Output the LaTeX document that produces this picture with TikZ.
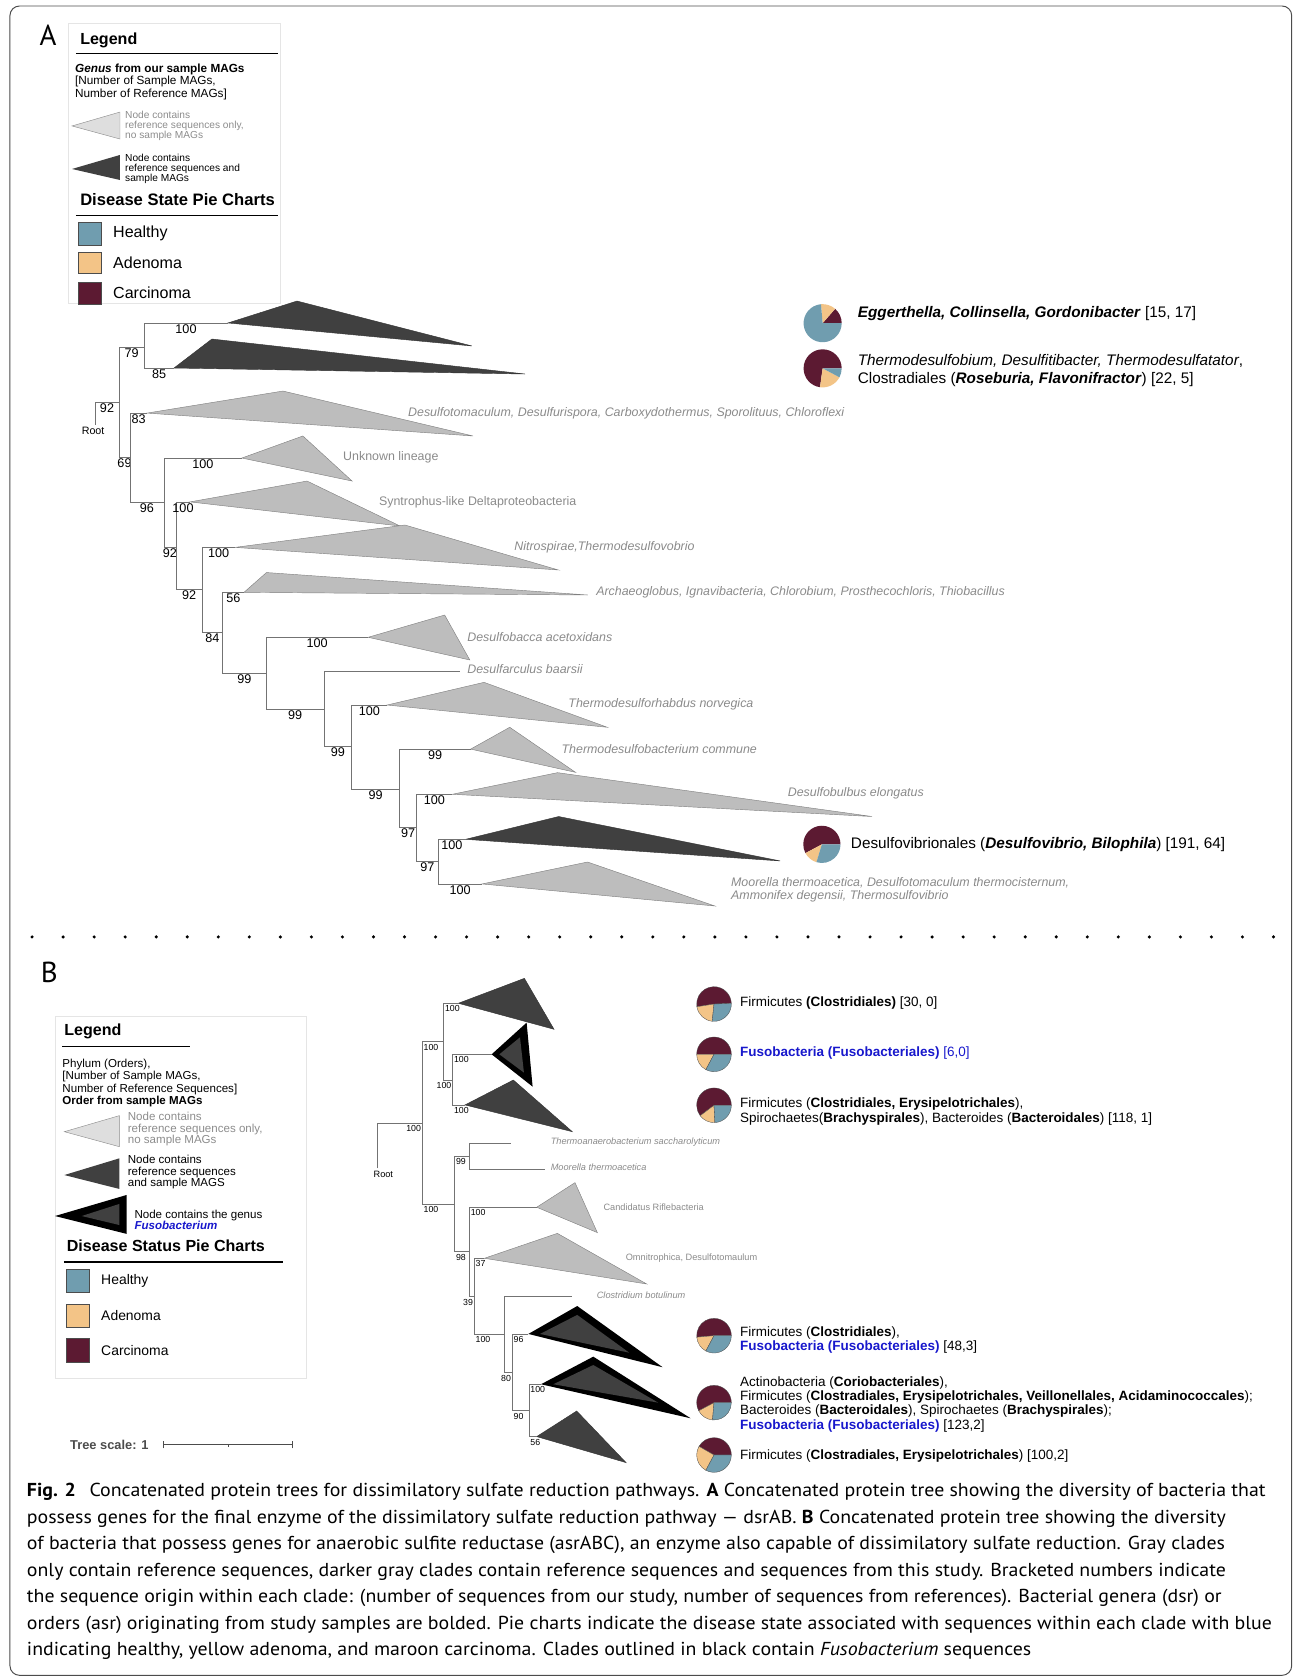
\documentclass[tikz,border=0pt]{standalone}
\usepackage{fontspec}
\setmainfont{Liberation Sans}
\newfontfamily\capfont[FakeStretch=1.06]{PT Sans}
\newfontfamily\panelfont{PT Sans}
\definecolor{healthy}{RGB}{112,157,175}
\definecolor{adenoma}{RGB}{243,196,135}
\definecolor{carcinoma}{RGB}{92,26,50}
\definecolor{cladedark}{RGB}{64,64,64}
\definecolor{cladelight}{RGB}{189,189,189}
\definecolor{reftext}{RGB}{138,138,138}
\definecolor{fuso}{RGB}{24,24,204}
\newcommand\fs[2]{\fontsize{#1}{#2}\selectfont}
\newcommand\piechart[6][black!70]{%
	\begin{scope}[shift={(#2)},yscale=-1,line width=0.3pt]
		\filldraw[fill=carcinoma,draw=#1] (0,0) -- (#4:#3) arc[start angle=#4,end angle=#5,radius=#3] -- cycle;
		\filldraw[fill=adenoma,draw=#1] (0,0) -- (#5:#3) arc[start angle=#5,end angle=#6,radius=#3] -- cycle;
		\filldraw[fill=healthy,draw=#1] (0,0) -- (#6:#3) arc[start angle=#6,end angle=360+(#4),radius=#3] -- cycle;
	\end{scope}}

\begin{document}
\begin{tikzpicture}[x=1pt,y=-1pt,
		branch/.style={draw=black!55,line width=0.6pt},
		boot/.style={pos=0.75,below,inner sep=1pt,font=\fs{11.8}{11.8}},
		bootl/.style={pos=0.5,anchor=north west,inner xsep=1pt,inner ysep=2pt,font=\fs{8.2}{8.2}},
		bootr/.style={pos=1,anchor=north east,inner xsep=1pt,inner ysep=2pt,font=\fs{8.2}{8.2}},
		dark/.style={fill=cladedark,draw=black!80,line width=0.4pt},
		light/.style={fill=cladelight,draw=black!50,line width=0.4pt},
		ref/.style={anchor=west,inner sep=0pt,text=reftext,font=\fs{11.6}{12}\itshape},
		refup/.style={anchor=west,inner sep=0pt,text=reftext,font=\fs{11.6}{12}},
		refb/.style={anchor=west,inner sep=0pt,text=reftext,font=\fs{8.6}{9}\itshape},
		refbup/.style={anchor=west,inner sep=0pt,text=reftext,font=\fs{8.6}{9}},
		pietext/.style={anchor=west,inner sep=0pt,align=left,font=\fs{14.3}{16.4}},
		pietextb/.style={anchor=west,inner sep=0pt,align=left,font=\fs{12.6}{13.5}},
		legbox/.style={draw=black!10,line width=0.8pt},
		swatch/.style={draw=black!70,line width=0.5pt},
		legtext/.style={anchor=west,inner sep=0pt,align=left},
		capline/.style={anchor=west,inner sep=0pt,font=\capfont\fs{17.5}{18}}]
	\useasboundingbox (0,0) rectangle (1210,1568);
	\draw[rounded corners=9pt,line width=0.9pt,black!70] (9.3,5.6) rectangle (1207,1565.5);

	\node[font=\panelfont\fs{27}{27}] (lblA) at (44.9,32.7) {A};
	\draw[legbox] (63.5,21.5) rectangle (261.6,284);
	\node[legtext,font=\fs{15}{15}\bfseries] (legA) at (74.8,37.4) {Legend};
	\draw[line width=0.7pt] (71,49.5) -- (259.8,49.5);
	\node[legtext,font=\fs{11}{11.6}] (genA) at (70,76.3) {\textbf{\textit{Genus} from our sample MAGs}\\{[}Number of Sample MAGs,\\Number of Reference MAGs]};
	\filldraw[fill=black!13,draw=black!45,line width=0.4pt] (67.3,117.7) -- (112.1,104.7) -- (112.1,129.9) -- cycle;
	\node[legtext,text=black!45,font=\fs{9.5}{9.6}] (refA) at (116.8,117.7) {Node contains\\reference sequences only,\\no sample MAGs};
	\fill[cladedark] (67.3,157.9) -- (112.1,144.8) -- (112.1,168.2) -- cycle;
	\node[legtext,font=\fs{9.5}{9.6}] (magA) at (116.8,157.9) {Node contains\\reference sequences and\\sample MAGs};
	\node[legtext,font=\fs{15.5}{15.5}\bfseries] (disA) at (74.8,186.9) {Disease State Pie Charts};
	\draw[line width=0.7pt] (71,200.9) -- (259.8,200.9);
	\filldraw[swatch,fill=healthy] (72.9,207.4) rectangle (94.4,228.9);
	\filldraw[swatch,fill=adenoma] (72.9,235.5) rectangle (94.4,255.1);
	\filldraw[swatch,fill=carcinoma] (72.9,263.5) rectangle (94.4,284);
	\node[legtext,font=\fs{15}{15}] (hA) at (105.6,218.2) {Healthy};
	\node[legtext,font=\fs{15}{15}] (aA) at (105.6,245.3) {Adenoma};
	\node[legtext,font=\fs{15}{15}] (cA) at (105.6,273.8) {Carcinoma};

	\coordinate (ar) at (88.8,397);
	\coordinate (a92) at (111.2,375.6);
	\coordinate (a79) at (134.6,324.2);
	\coordinate (a69) at (121.5,427);
	\coordinate (a96) at (153.2,469);
	\coordinate (a92b) at (164.5,511);
	\coordinate (a92c) at (189,551);
	\coordinate (a84) at (208,591);
	\coordinate (a99) at (248.6,629);
	\coordinate (a99b) at (303,662.5);
	\coordinate (a99c) at (328.6,697.7);
	\coordinate (a99d) at (373.3,737.3);
	\coordinate (a97) at (389.4,773);
	\coordinate (a97b) at (409.5,804.5);
	\coordinate (egg) at (213,301.8);
	\coordinate (therm) at (162.6,343.9);
	\coordinate (dtom) at (137.4,386);
	\coordinate (unk) at (226,428);
	\coordinate (syn) at (177.5,469);
	\coordinate (nitro) at (219.6,511.5);
	\coordinate (arch) at (228,553.5);
	\coordinate (dbac) at (344,595.5);
	\coordinate (dfar) at (430,627);
	\coordinate (trh) at (361.7,658.8);
	\coordinate (tdb) at (439.8,700);
	\coordinate (dbul) at (422.6,742.2);
	\coordinate (dvib) at (435,784.3);
	\coordinate (moor) at (450.4,826);

	\filldraw[dark] (egg) -- (277.5,281.3) -- (441,323.3) -- cycle;
	\filldraw[dark] (therm) -- (198,316.8) -- (490.6,349.5) -- cycle;
	\filldraw[light] (dtom) -- (264.4,365.4) -- (442,407.4) -- cycle;
	\filldraw[light] (unk) -- (283,407.4) -- (329,449.5) -- cycle;
	\filldraw[light] (syn) -- (286.9,449.5) -- (373.8,491.5) -- cycle;
	\filldraw[light] (nitro) -- (378.4,490.6) -- (521.7,532.6) -- cycle;
	\filldraw[light] (arch) -- (249,535) -- (549.4,556) -- cycle;
	\filldraw[light] (dbac) -- (415.5,574.7) -- (439,616.7) -- cycle;
	\filldraw[light] (trh) -- (452.3,637.6) -- (567.5,679.6) -- cycle;
	\filldraw[light] (tdb) -- (476.3,679.6) -- (537.8,721.7) -- cycle;
	\filldraw[light] (dbul) -- (521,722) -- (815,763) -- cycle;
	\filldraw[dark] (dvib) -- (522,763) -- (729,804.5) -- cycle;
	\filldraw[light] (moor) -- (549,805.5) -- (668,846.6) -- cycle;

	\draw[branch] (ar) |- node[boot]{92} (a92);
	\draw[branch] (a92) |- node[boot]{79} (a79);
	\draw[branch] (a79) |- node[boot]{100} (egg);
	\draw[branch] (a79) |- node[boot]{85} (therm);
	\draw[branch] (a92) |- node[boot]{69} (a69);
	\draw[branch] (a69) |- node[boot]{83} (dtom);
	\draw[branch] (a69) |- node[boot]{96} (a96);
	\draw[branch] (a96) |- node[boot]{100} (unk);
	\draw[branch] (a96) |- node[boot]{92} (a92b);
	\draw[branch] (a92b) |- node[boot]{100} (syn);
	\draw[branch] (a92b) |- node[boot]{92} (a92c);
	\draw[branch] (a92c) |- node[boot]{100} (nitro);
	\draw[branch] (a92c) |- node[boot]{84} (a84);
	\draw[branch] (a84) |- node[boot]{56} (arch);
	\draw[branch] (a84) |- node[boot]{99} (a99);
	\draw[branch] (a99) |- node[boot]{100} (dbac);
	\draw[branch] (a99) |- node[boot]{99} (a99b);
	\draw[branch] (a99b) |- (dfar);
	\draw[branch] (a99b) |- node[boot]{99} (a99c);
	\draw[branch] (a99c) |- node[boot]{100} (trh);
	\draw[branch] (a99c) |- node[boot]{99} (a99d);
	\draw[branch] (a99d) |- node[boot]{99} (tdb);
	\draw[branch] (a99d) |- node[boot]{97} (a97);
	\draw[branch] (a97) |- node[boot]{100} (dbul);
	\draw[branch] (a97) |- node[boot]{97} (a97b);
	\draw[branch] (a97b) |- node[boot]{100} (dvib);
	\draw[branch] (a97b) |- node[boot]{100} (moor);
	\node[font=\fs{10}{10}] (rootA) at (87,402.7) {Root};

	\node[ref] (dtomlbl) at (381.2,386) {Desulfotomaculum, Desulfurispora, Carboxydothermus, Sporolituus, Chloroflexi};
	\node[refup] (unklbl) at (320.5,427) {Unknown lineage};
	\node[refup] (synlbl) at (354,469) {Syntrophus-like Deltaproteobacteria};
	\node[ref] (nitrolbl) at (480.5,511) {Nitrospirae,Thermodesulfovobrio};
	\node[ref] (archlbl) at (557,553) {Archaeoglobus, Ignavibacteria, Chlorobium, Prosthecochloris, Thiobacillus};
	\node[ref] (dbaclbl) at (436.5,595) {Desulfobacca acetoxidans};
	\node[ref] (dfarlbl) at (436.5,625) {Desulfarculus baarsii};
	\node[ref] (trhlbl) at (531,658) {Thermodesulforhabdus norvegica};
	\node[ref] (tdblbl) at (524.6,700) {Thermodesulfobacterium commune};
	\node[ref] (dbullbl) at (736,741) {Desulfobulbus elongatus};
	\node[ref,align=left,font=\fs{11.6}{11.5}\itshape] (moorlbl) at (683,831.5) {Moorella thermoacetica, Desulfotomaculum thermocisternum,\\Ammonifex degensii, Thermosulfovibrio};

	\coordinate (pA1) at (768.7,302);
	\coordinate (pA2) at (768.7,344.2);
	\coordinate (pA3) at (768,789);
	\piechart[none]{pA1}{17.8}{0}{49}{95}
	\piechart[none]{pA2}{17.8}{0}{262}{332}
	\piechart[none]{pA3}{17.4}{0}{208}{253}
	\node[pietext] (tA1) at (801.4,292.8) {\textbf{\textit{Eggerthella, Collinsella, Gordonibacter}} [15, 17]};
	\node[pietext] (tA2) at (801.4,346.2) {\textit{Thermodesulfobium, Desulfitibacter, Thermodesulfatator},\\Clostradiales (\textbf{\textit{Roseburia, Flavonifractor}}) [22, 5]};
	\node[pietext] (tA3) at (795,789) {Desulfovibrionales (\textbf{\textit{Desulfovibrio, Bilophila}}) [191, 64]};

	\foreach \i in {0,...,40}
		\fill (30+29*\i,875.5) circle[radius=1.6];

	\node[font=\panelfont\fs{27}{27}] (lblB) at (46,909) {B};
	\draw[legbox] (52,949.4) rectangle (286,1288);
	\node[legtext,font=\fs{15}{15}\bfseries] (legB) at (60,963.4) {Legend};
	\draw[line width=0.7pt] (58.2,977.4) -- (177.5,977.4);
	\node[legtext,font=\fs{10.8}{11.3}] (phyB) at (58.2,1012) {Phylum (Orders),\\{[}Number of Sample MAGs,\\Number of Reference Sequences]\\\textbf{Order from sample MAGs}};
	\filldraw[fill=black!13,draw=black!45,line width=0.4pt] (60.1,1057.5) -- (111.5,1042.5) -- (111.5,1071.5) -- cycle;
	\node[legtext,text=black!45,font=\fs{10.8}{10.9}] (refB) at (119.3,1055.3) {Node contains\\reference sequences only,\\no sample MAGs};
	\fill[cladedark] (60.1,1098) -- (111.5,1082.4) -- (111.5,1111) -- cycle;
	\node[legtext,font=\fs{10.8}{10.9}] (magB) at (119.3,1095.4) {Node contains\\reference sequences\\and sample MAGS};
	\fill[black] (51.4,1136.3) -- (118.4,1116.6) -- (118.4,1153) -- cycle;
	\fill[cladedark] (76.3,1136.3) -- (111.5,1125) -- (111.5,1144.7) -- cycle;
	\node[legtext,font=\fs{10.8}{10.6}] (fusB) at (125.5,1139.7) {Node contains the genus\\\textcolor{fuso}{\textbf{\textit{Fusobacterium}}}};
	\node[legtext,font=\fs{15}{15}\bfseries] (disB) at (62.3,1164.3) {Disease Status Pie Charts};
	\draw[line width=1.5pt] (59.8,1179) -- (264.1,1179);
	\filldraw[swatch,fill=healthy] (62,1186) rectangle (83.5,1207.5);
	\filldraw[swatch,fill=adenoma] (62,1218.7) rectangle (83.5,1240.3);
	\filldraw[swatch,fill=carcinoma] (62,1250.5) rectangle (83.5,1272.7);
	\node[legtext,font=\fs{13}{13}] (hB) at (94.4,1196.8) {Healthy};
	\node[legtext,font=\fs{13}{13}] (aB) at (94.4,1229.5) {Adenoma};
	\node[legtext,font=\fs{13}{13}] (cB) at (94.4,1261.6) {Carcinoma};
	\node[legtext,text=black!70,font=\fs{12}{12}\bfseries] (scaleB) at (65.4,1350) {Tree scale: 1};
	\coordinate (sc0) at (152.6,1350);
	\coordinate (sc1) at (273.2,1350);
	\draw[black!70,line width=0.6pt] (sc0) -- (sc1);
	\draw[black!70,line width=0.6pt] ([yshift=-3.5pt]sc0) -- ([yshift=3.5pt]sc0);
	\draw[black!70,line width=0.6pt] ([yshift=-3.5pt]sc1) -- ([yshift=3.5pt]sc1);
	\draw[black!70,line width=0.5pt] (213.4,1350) -- (213.4,1352.5);

	\coordinate (broot) at (352.9,1091.7);
	\coordinate (b1) at (394.6,1049.7);
	\coordinate (b2) at (414.6,973.3);
	\coordinate (b3) at (423,1009.2);
	\coordinate (b4) at (424.9,1125);
	\coordinate (b99) at (438.6,1080.2);
	\coordinate (b98) at (438.6,1169.6);
	\coordinate (b39) at (443.2,1211.6);
	\coordinate (b100) at (471.3,1246.5);
	\coordinate (b80) at (478.7,1282.6);
	\coordinate (b90) at (494.3,1318.1);
	\coordinate (firm1) at (428.3,937.5);
	\coordinate (fuso1) at (459.4,985.2);
	\coordinate (firm2) at (434.5,1032.5);
	\coordinate (thermo) at (477.2,1068.3);
	\coordinate (moorb) at (509.3,1092.6);
	\coordinate (cand) at (501.5,1128.1);
	\coordinate (omni) at (452.6,1175.8);
	\coordinate (clos) at (534.2,1211.6);
	\coordinate (fuso2) at (493.7,1246.5);
	\coordinate (fuso3) at (505.5,1293.5);
	\coordinate (firm3) at (501.5,1342.4);

	\filldraw[dark] (firm1) -- (490,914.2) -- (517.7,961.8) -- cycle;
	\fill[black] (fuso1) -- (492.1,955.6) -- (497.7,1015.4) -- cycle;
	\fill[cladedark] (466.6,985.2) -- (485.9,969.3) -- (489.6,1002.3) -- cycle;
	\filldraw[dark] (firm2) -- (479.7,1009.2) -- (534.8,1057.5) -- cycle;
	\filldraw[light] (cand) -- (537.3,1105.1) -- (558.2,1151.8) -- cycle;
	\filldraw[light] (omni) -- (520.8,1152.5) -- (604.3,1199.8) -- cycle;
	\fill[black] (fuso2) -- (539.4,1220.4) -- (619.2,1277.6) -- cycle;
	\fill[cladedark] (504.6,1246.5) -- (539.4,1228.7) -- (588,1264) -- cycle;
	\fill[black] (fuso3) -- (554.4,1267.7) -- (645.4,1325.3) -- cycle;
	\fill[cladedark] (517,1293.5) -- (554.4,1275.5) -- (615.1,1310.7) -- cycle;
	\filldraw[dark] (firm3) -- (538.9,1318.5) -- (585,1366.7) -- cycle;

	\draw[branch] (broot) |- node[bootr]{100} (b1);
	\draw[branch] (b1) |- node[bootl]{100} (b2);
	\draw[branch] (b2) |- node[bootl]{100} (firm1);
	\draw[branch] (b2) |- node[bootr]{100} (b3);
	\draw[branch] (b3) |- node[bootl]{100} (fuso1);
	\draw[branch] (b3) |- node[bootl]{100} (firm2);
	\draw[branch] (b1) |- node[bootl]{100} (b4);
	\draw[branch] (b4) |- node[bootl]{99} (b99);
	\draw[branch] (b99) |- (thermo);
	\draw[branch] (b99) |- (moorb);
	\draw[branch] (b4) |- node[bootl]{98} (b98);
	\draw[branch] (b98) |- node[bootl]{100} (cand);
	\draw[branch] (b98) |- node[bootr]{39} (b39);
	\draw[branch] (b39) |- node[bootl]{37} (omni);
	\draw[branch] (b39) |- node[bootl]{100} (b100);
	\draw[branch] (b100) |- (clos);
	\draw[branch] (b100) |- node[bootr]{80} (b80);
	\draw[branch] (b80) |- node[bootl]{96} (fuso2);
	\draw[branch] (b80) |- node[bootl]{90} (b90);
	\draw[branch] (b90) |- node[bootl]{100} (fuso3);
	\draw[branch] (b90) |- node[bootl]{56} (firm3);
	\node[font=\fs{8.6}{8.6}] (rootB) at (358.2,1097) {Root};

	\node[refb] (thermolbl) at (514.5,1067.7) {Thermoanaerobacterium saccharolyticum};
	\node[refb] (moorblbl) at (514.5,1090.8) {Moorella thermoacetica};
	\node[refbup] (candlbl) at (563.8,1128.1) {Candidatus Riflebacteria};
	\node[refbup] (omnilbl) at (584.6,1175.8) {Omnitrophica, Desulfotomaulum};
	\node[refb] (closlbl) at (557.5,1210.7) {Clostridium botulinum};

	\coordinate (pB1) at (667.2,938.2);
	\coordinate (pB2) at (667.2,985.2);
	\coordinate (pB3) at (667.2,1032.8);
	\coordinate (pB4) at (667.2,1248.1);
	\coordinate (pB5) at (667.2,1310.7);
	\coordinate (pB6) at (667.2,1359.6);
	\piechart{pB1}{16.2}{2}{189}{264}
	\piechart{pB2}{16.2}{0}{180}{242}
	\piechart{pB3}{16.2}{0}{217}{273}
	\piechart{pB4}{16.2}{0}{185}{242}
	\piechart{pB5}{16.2}{0}{208}{265}
	\piechart{pB6}{16.2}{0}{150}{242}
	\node[pietextb] (tB1) at (691.5,937.5) {Firmicutes \textbf{(Clostridiales)} [30, 0]};
	\node[pietextb,text=fuso] (tB2) at (691.5,984.2) {\textbf{Fusobacteria (Fusobacteriales)} [6,0]};
	\node[pietextb] (tB3) at (691.5,1038.5) {Firmicutes (\textbf{Clostridiales, Erysipelotrichales}),\\Spirochaetes(\textbf{Brachyspirales}), Bacteroides (\textbf{Bacteroidales}) [118, 1]};
	\node[pietextb] (tB4) at (691.5,1252.1) {Firmicutes (\textbf{Clostridiales}),\\\textcolor{fuso}{\textbf{Fusobacteria (Fusobacteriales)}} [48,3]};
	\node[pietextb] (tB5) at (691.5,1312.2) {Actinobacteria (\textbf{Coriobacteriales}),\\Firmicutes (\textbf{Clostradiales, Erysipelotrichales, Veillonellales, Acidaminococcales});\\Bacteroides (\textbf{Bacteroidales}), Spirochaetes (\textbf{Brachyspirales});\\\textcolor{fuso}{\textbf{Fusobacteria (Fusobacteriales)}} [123,2]};
	\node[pietextb] (tB6) at (691.5,1360.2) {Firmicutes (\textbf{Clostradiales, Erysipelotrichales}) [100,2]};

	\node[capline] (cap1) at (25,1394) {\textbf{Fig. 2}\hspace{0.45em} Concatenated protein trees for dissimilatory sulfate reduction pathways. \textbf{A} Concatenated protein tree showing the diversity of bacteria that};
	\node[capline] (cap2) at (25,1418.8) {possess genes for the final enzyme of the dissimilatory sulfate reduction pathway — dsrAB. \textbf{B} Concatenated protein tree showing the diversity};
	\node[capline] (cap3) at (25,1443.6) {of bacteria that possess genes for anaerobic sulfite reductase (asrABC), an enzyme also capable of dissimilatory sulfate reduction. Gray clades};
	\node[capline] (cap4) at (25,1468.4) {only contain reference sequences, darker gray clades contain reference sequences and sequences from this study. Bracketed numbers indicate};
	\node[capline] (cap5) at (25,1493.2) {the sequence origin within each clade: (number of sequences from our study, number of sequences from references). Bacterial genera (dsr) or};
	\node[capline] (cap6) at (25,1518) {orders (asr) originating from study samples are bolded. Pie charts indicate the disease state associated with sequences within each clade with blue};
	\node[capline] (cap7) at (25,1542.8) {indicating healthy, yellow adenoma, and maroon carcinoma. Clades outlined in black contain \textit{Fusobacterium} sequences};
\end{tikzpicture}
\end{document}
